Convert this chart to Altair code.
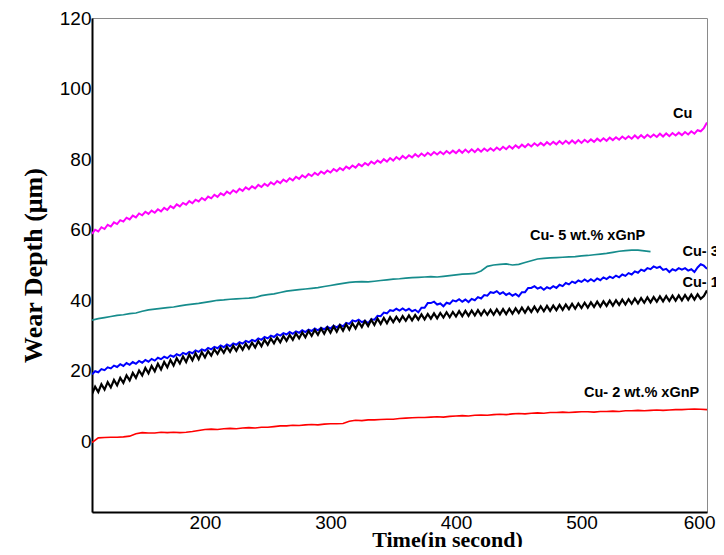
import altair as alt
import pandas as pd

# ---------------- data ----------------
t_fine = [110 + 2.5 * i for i in range(197)]      # sample times for Cu, Cu-1, Cu-3
t_coarse = [110 + 5 * i for i in range(99)]       # sample times for Cu-2
t_teal = [110 + 5 * i for i in range(90)]         # sample times for Cu-5 (ends ~555 s)

cu = [
    58.8, 60.0, 59.5, 60.7, 60.2, 61.4, 60.9, 62.1, 61.6, 62.7, 62.3, 63.4,
    62.9, 64.0, 63.5, 64.6, 64.1, 65.1, 64.5, 65.4, 64.8, 65.8, 65.2, 66.2,
    65.6, 66.7, 66.1, 67.2, 66.6, 67.6, 67.1, 68.1, 67.5, 68.5, 68.0, 69.0,
    68.4, 69.4, 68.9, 69.9, 69.3, 70.3, 69.8, 70.8, 70.2, 71.2, 70.6, 71.6,
    71.0, 72.0, 71.4, 72.3, 71.7, 72.7, 72.1, 73.0, 72.4, 73.4, 72.8, 73.8,
    73.2, 74.2, 73.6, 74.6, 74.0, 75.0, 74.4, 75.4, 74.8, 75.8, 75.2, 76.1,
    75.5, 76.5, 75.9, 76.8, 76.2, 77.2, 76.6, 77.5, 76.9, 77.9, 77.3, 78.2,
    77.6, 78.6, 78.0, 78.9, 78.3, 79.3, 78.7, 79.6, 79.0, 80.0, 79.3, 80.3,
    79.6, 80.6, 79.9, 80.9, 80.2, 81.1, 80.5, 81.4, 80.7, 81.6, 80.9, 81.8,
    81.1, 82.0, 81.3, 82.1, 81.4, 82.3, 81.6, 82.4, 81.7, 82.6, 81.8, 82.7,
    81.9, 82.8, 82.0, 82.9, 82.1, 83.0, 82.3, 83.1, 82.4, 83.3, 82.6, 83.5,
    82.8, 83.7, 83.0, 83.9, 83.2, 84.1, 83.4, 84.3, 83.6, 84.5, 83.8, 84.6,
    83.9, 84.8, 84.1, 84.9, 84.2, 85.1, 84.3, 85.2, 84.4, 85.3, 84.5, 85.4,
    84.6, 85.5, 84.8, 85.6, 84.9, 85.8, 85.1, 85.9, 85.2, 86.1, 85.4, 86.2,
    85.5, 86.4, 85.7, 86.5, 85.8, 86.7, 85.9, 86.8, 86.0, 86.9, 86.2, 87.0,
    86.3, 87.2, 86.4, 87.3, 86.5, 87.4, 86.7, 87.5, 86.8, 87.7, 87.0, 87.9,
    87.2, 88.2, 87.9, 88.8, 90.4,
]

cu1 = [
    13.4, 15.5, 14.0, 16.2, 14.7, 16.8, 15.3, 17.4, 15.9, 18.0, 16.6, 18.7,
    17.3, 19.4, 18.0, 20.1, 18.7, 20.8, 19.3, 21.4, 19.9, 22.0, 20.4, 22.5,
    21.0, 23.1, 21.5, 23.6, 22.1, 24.1, 22.5, 24.6, 23.0, 25.0, 23.3, 25.3,
    23.8, 25.6, 24.3, 26.1, 24.8, 26.5, 25.1, 26.8, 25.4, 27.1, 25.7, 27.4,
    26.0, 27.7, 26.3, 28.0, 26.6, 28.4, 27.0, 28.8, 27.4, 29.2, 27.8, 29.5,
    28.1, 29.9, 28.5, 30.2, 28.8, 30.6, 29.2, 30.9, 29.5, 31.3, 29.9, 31.6,
    30.2, 32.0, 30.5, 32.3, 30.8, 32.6, 31.1, 32.9, 31.4, 33.2, 31.7, 33.5,
    32.0, 33.8, 32.4, 34.1, 32.7, 34.5, 33.0, 34.8, 33.3, 35.0, 33.5, 35.2,
    33.8, 35.3, 34.0, 35.5, 34.2, 35.7, 34.3, 35.8, 34.5, 36.0, 34.6, 36.1,
    34.8, 36.3, 34.9, 36.4, 35.1, 36.6, 35.2, 36.7, 35.4, 36.9, 35.5, 37.0,
    35.6, 37.1, 35.7, 37.2, 35.8, 37.2, 35.9, 37.3, 35.9, 37.4, 36.0, 37.5,
    36.1, 37.6, 36.2, 37.7, 36.4, 37.9, 36.5, 38.0, 36.7, 38.2, 36.8, 38.3,
    36.9, 38.4, 37.0, 38.5, 37.2, 38.7, 37.3, 38.8, 37.5, 39.0, 37.6, 39.1,
    37.8, 39.3, 37.9, 39.4, 38.1, 39.6, 38.2, 39.7, 38.4, 39.9, 38.5, 40.0,
    38.7, 40.2, 38.8, 40.3, 39.0, 40.5, 39.1, 40.6, 39.3, 40.8, 39.4, 40.9,
    39.6, 41.1, 39.7, 41.2, 39.8, 41.3, 39.9, 41.4, 40.0, 41.5, 40.1, 41.6,
    40.2, 41.7, 40.4, 41.2, 42.8,
]

cu3 = [
    19.0, 19.9, 19.6, 20.5, 20.2, 21.0, 20.7, 21.5, 21.1, 21.9, 21.4, 22.2,
    21.7, 22.5, 22.0, 22.8, 22.3, 23.1, 22.6, 23.4, 22.9, 23.7, 23.3, 24.0,
    23.6, 24.4, 24.0, 24.7, 24.3, 25.1, 24.7, 25.4, 25.0, 25.8, 25.4, 26.1,
    25.7, 26.5, 26.1, 26.8, 26.4, 27.2, 26.7, 27.5, 27.0, 27.8, 27.4, 28.1,
    27.7, 28.5, 28.1, 28.8, 28.4, 29.2, 28.8, 29.6, 29.2, 30.0, 29.6, 30.4,
    30.0, 30.7, 30.3, 31.0, 30.5, 31.2, 30.8, 31.5, 31.0, 31.7, 31.3, 32.0,
    31.5, 32.2, 31.8, 32.5, 32.0, 32.8, 32.3, 33.1, 32.6, 33.6, 33.3, 34.3,
    34.0, 34.5, 33.8, 34.2, 33.5, 34.6, 34.5, 35.6, 35.5, 36.5, 36.3, 37.2,
    37.0, 37.6, 37.1, 37.7, 37.1, 37.6, 36.9, 37.3, 36.6, 37.9, 37.9, 39.2,
    39.2, 39.6, 38.8, 39.1, 38.3, 39.3, 39.0, 40.0, 39.7, 40.3, 39.6, 40.2,
    39.5, 40.4, 40.0, 40.9, 40.5, 41.5, 41.3, 42.3, 42.1, 42.6, 41.8, 42.3,
    41.5, 42.0, 41.3, 41.8, 41.1, 42.3, 42.3, 43.5, 43.5, 44.0, 43.3, 43.7,
    43.0, 43.7, 43.3, 44.0, 43.5, 44.4, 44.0, 44.9, 44.5, 45.3, 44.9, 45.6,
    45.2, 45.9, 45.3, 46.0, 45.4, 46.2, 45.7, 46.5, 46.0, 46.7, 46.3, 47.0,
    46.5, 47.3, 46.9, 47.7, 47.3, 48.2, 47.8, 48.7, 48.3, 49.1, 48.8, 49.6,
    49.2, 49.5, 48.6, 48.9, 48.0, 48.8, 48.4, 49.1, 48.7, 49.1, 48.4, 48.8,
    48.0, 49.3, 50.2, 49.8, 48.9,
]

cu5 = [
    34.4, 34.8, 35.1, 35.4, 35.7, 35.9, 36.2, 36.4, 36.9, 37.3, 37.5, 37.7,
    37.9, 38.1, 38.4, 38.7, 38.9, 39.1, 39.4, 39.7, 40.0, 40.1, 40.3, 40.4,
    40.5, 40.6, 40.8, 41.3, 41.6, 41.8, 42.2, 42.6, 42.8, 43.0, 43.2, 43.4,
    43.6, 43.9, 44.2, 44.5, 44.8, 45.1, 45.2, 45.3, 45.2, 45.4, 45.6, 45.8,
    46.0, 46.1, 46.3, 46.4, 46.5, 46.6, 46.7, 46.6, 46.8, 47.0, 47.2, 47.4,
    47.5, 47.6, 48.3, 49.6, 50.0, 50.2, 50.3, 50.0, 50.2, 50.7, 51.2, 51.7,
    51.9, 52.0, 52.1, 52.2, 52.3, 52.4, 52.6, 52.7, 52.9, 53.1, 53.3, 53.6,
    53.9, 54.1, 54.2, 54.2, 54.0, 53.8,
]

cu2 = [
    -0.3, 1.0, 1.1, 1.2, 1.2, 1.3, 1.5, 2.2, 2.5, 2.4, 2.4, 2.6,
    2.5, 2.6, 2.5, 2.6, 2.8, 3.1, 3.4, 3.5, 3.4, 3.6, 3.7, 3.6,
    3.8, 3.9, 3.8, 4.0, 4.0, 4.2, 4.4, 4.4, 4.6, 4.5, 4.7, 4.8,
    4.7, 4.9, 5.0, 5.0, 5.1, 5.7, 6.0, 5.9, 6.1, 6.1, 6.2, 6.3,
    6.3, 6.5, 6.6, 6.7, 6.8, 6.8, 6.9, 7.0, 6.9, 7.1, 7.2, 7.3,
    7.2, 7.4, 7.5, 7.4, 7.6, 7.7, 7.6, 7.8, 7.9, 7.8, 8.0, 8.1,
    8.0, 8.2, 8.2, 8.3, 8.2, 8.3, 8.4, 8.4, 8.3, 8.5, 8.5, 8.6,
    8.5, 8.7, 8.7, 8.8, 8.7, 8.8, 8.9, 8.8, 8.9, 9.0, 9.0, 9.1,
    9.2, 9.1, 9.0,
]

label_text = ["Cu", "Cu- 5 wt.% xGnP", "Cu- 3 wt.% xGnP", "Cu- 1 wt.% xGnP", "Cu- 2 wt.% xGnP"]
label_t = [573, 459, 580.5, 580.5, 502]
label_y = [92.9, 58.1, 53.8, 44.8, 13.8]

x_ticks = [200, 300, 400, 500, 600]
y_ticks = [0, 20, 40, 60, 80, 100, 120]

# ---------------- chart ----------------
xscale = alt.Scale(domain=[110, 600], nice=False, zero=False)
yscale = alt.Scale(domain=[-20, 120], nice=False, zero=False)

xaxis = alt.Axis(
    values=x_ticks, title="Time(in second)", ticks=False, grid=False,
    labelFont="Liberation Sans", labelFontSize=19, labelColor="black", labelPadding=1,
    labelFlush=True, labelFlushOffset=8,
    domainColor="black", domainWidth=2,
    titleFont="Liberation Serif", titleFontSize=22, titleFontWeight="bold", titleColor="black",
    titleX=355, titleY=34, titleBaseline="alphabetic", titleAlign="center",
)
yaxis = alt.Axis(
    values=y_ticks, title="Wear Depth (μm)", ticks=False, grid=False,
    labelFont="Liberation Sans", labelFontSize=19, labelColor="black", labelPadding=1,
    domainColor="black", domainWidth=2,
    titleFont="Liberation Serif", titleFontSize=26, titleFontWeight="bold", titleColor="black",
    titleX=-59, titleY=247, titleAngle=270, titleBaseline="middle", titleAlign="center",
)


def line(ts, vals, color, width):
    df = pd.DataFrame({"t": ts, "d": vals})
    return alt.Chart(df).mark_line(color=color, strokeWidth=width, clip=True).encode(
        x=alt.X("t:Q", scale=xscale, axis=xaxis),
        y=alt.Y("d:Q", scale=yscale, axis=yaxis),
    )


layers = [
    line(t_coarse, cu2, "#FF0000", 1.6),
    line(t_teal, cu5, "#168C8C", 1.7),
    line(t_fine, cu, "#FF00FF", 2.0),
    line(t_fine, cu3, "#0000FF", 2.0),
    line(t_fine, cu1, "#000000", 2.2),
]

labels_df = pd.DataFrame({"t": label_t, "d": label_y, "txt": label_text})
labels = alt.Chart(labels_df).mark_text(
    align="left", baseline="middle", font="Liberation Sans", fontSize=14.5,
    fontWeight="bold", color="black",
).encode(
    x=alt.X("t:Q", scale=xscale, axis=xaxis),
    y=alt.Y("d:Q", scale=yscale, axis=yaxis),
    text="txt:N",
)

chart = alt.layer(*layers, labels).properties(
    width=615, height=494,
    autosize=alt.AutoSizeParams(type="none"),
    padding={"left": 84, "top": 10, "right": 9, "bottom": 35},
).configure_view(stroke="#8a8a8a", strokeWidth=1)

chart.save("out.html", embed_options={"renderer": "svg", "actions": False})
